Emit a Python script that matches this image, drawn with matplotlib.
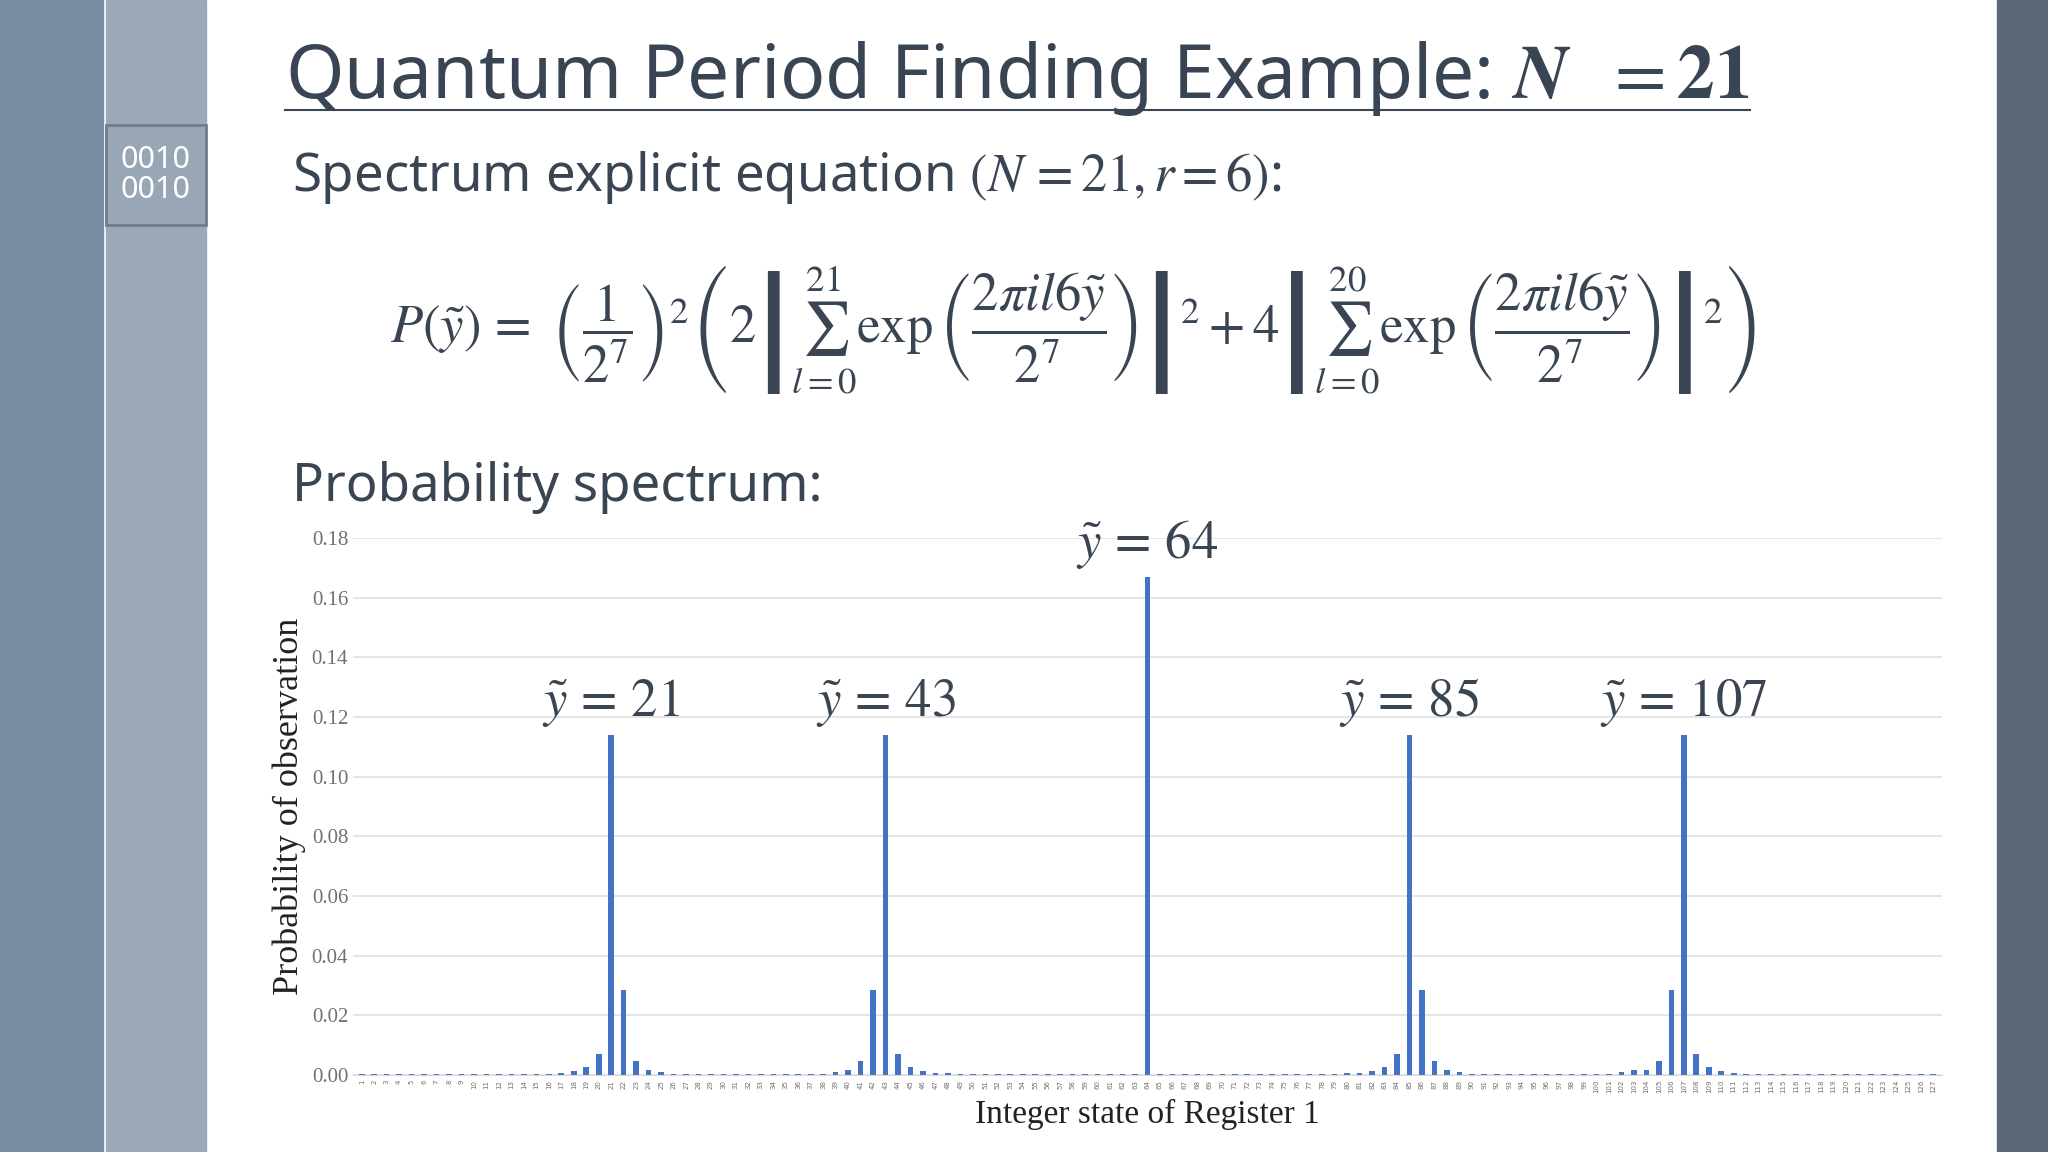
import matplotlib
matplotlib.use('Agg')
import matplotlib.pyplot as plt
from matplotlib.patches import Rectangle
from matplotlib.lines import Line2D

plt.rcParams['mathtext.fontset'] = 'stix'

states = list(range(1, 128))
prob = [
    0.0003, 0.0003, 0.0003, 0.0003, 0.0003, 0.0003, 0.0003, 0.0003, 0.0003, 0.0003,   # 1-10
    0.0003, 0.0003, 0.0003, 0.0003, 0.0003, 0.0005, 0.0006, 0.0013, 0.0026, 0.0070,   # 11-20
    0.1140, 0.0285, 0.0048, 0.0018, 0.0009, 0.0005, 0.0003, 0.0003, 0.0003, 0.0003,   # 21-30
    0.0003, 0.0003, 0.0003, 0.0003, 0.0003, 0.0003, 0.0003, 0.0005, 0.0009, 0.0018,   # 31-40
    0.0048, 0.0285, 0.1140, 0.0070, 0.0026, 0.0013, 0.0006, 0.0006, 0.0003, 0.0003,   # 41-50
    0.0003, 0.0003, 0.0003, 0.0003, 0.0003, 0.0003, 0.0003, 0.0003, 0.0003, 0.0003,   # 51-60
    0.0003, 0.0003, 0.0003, 0.1670, 0.0003, 0.0003, 0.0003, 0.0003, 0.0003, 0.0003,   # 61-70
    0.0003, 0.0003, 0.0003, 0.0003, 0.0003, 0.0003, 0.0003, 0.0003, 0.0003, 0.0006,   # 71-80
    0.0006, 0.0013, 0.0026, 0.0070, 0.1140, 0.0285, 0.0048, 0.0018, 0.0009, 0.0005,   # 81-90
    0.0003, 0.0003, 0.0003, 0.0003, 0.0003, 0.0003, 0.0003, 0.0003, 0.0003, 0.0003,   # 91-100
    0.0005, 0.0009, 0.0018, 0.0018, 0.0048, 0.0285, 0.1140, 0.0070, 0.0026, 0.0013,   # 101-110
    0.0006, 0.0005, 0.0003, 0.0003, 0.0003, 0.0003, 0.0003, 0.0003, 0.0003, 0.0003,   # 111-120
    0.0003, 0.0003, 0.0003, 0.0003, 0.0003, 0.0003, 0.0003,                           # 121-127
]
peaks = [21, 43, 64, 85, 107]
yticks = [0.00, 0.02, 0.04, 0.06, 0.08, 0.10, 0.12, 0.14, 0.16, 0.18]

dark = '#3a4553'
fig = plt.figure(figsize=(20.48, 11.52), dpi=100)

# slide decoration
fig.patches.append(Rectangle((0, 0), 103/2048, 1, transform=fig.transFigure, color='#7b8da2'))
fig.patches.append(Rectangle((106/2048, 0), 100/2048, 1, transform=fig.transFigure, color='#9aa8b7'))
fig.patches.append(Rectangle((1997/2048, 0), 51/2048, 1, transform=fig.transFigure, color='#5a6878'))
fig.patches.append(Rectangle((106/2048, 1 - 225/1152), 100/2048, 100/1152, transform=fig.transFigure,
                             facecolor='#98a6b5', edgecolor='#6e7e8f', lw=2))
fig.text(155/2048, 1 - 175/1152, '0010\n0010', color='white', fontsize=22, ha='center', va='center',
         family='Noto Sans', linespacing=1.0)

fig.text(285/2048, 1 - 78/1152, r'Quantum Period Finding Example: $\boldsymbol{N}\ \ = \mathbf{21}$',
         fontsize=54, color=dark, family='Noto Sans', va='center')
fig.lines.append(Line2D([285/2048, 1750/2048], [1 - 110/1152] * 2, transform=fig.transFigure, color=dark, lw=1.5))

fig.text(292/2048, 1 - 178/1152, r'Spectrum explicit equation $(N\,=21, r=6)$:', fontsize=38, color=dark,
         family='Noto Sans', va='center')
eq = (r'$P(\tilde{y})\,=\ \left(\dfrac{1}{2^7}\right)^2\left(2\left|\sum_{l=0}^{21}\exp\left(\dfrac{2\pi i l 6\tilde{y}}{2^7}\right)\right|^2'
      r'+4\left|\sum_{l=0}^{20}\exp\left(\dfrac{2\pi i l 6\tilde{y}}{2^7}\right)\right|^2\right)$')
fig.text(390/2048, 1 - 330/1152, eq, fontsize=38, color=dark, va='center')

fig.text(292/2048, 1 - 487/1152, 'Probability spectrum:', fontsize=38, color=dark,
         family='Noto Sans', va='center')

ax = fig.add_axes([353/2048, 1 - 1075/1152, (1942 - 353)/2048, (1075 - 538)/1152])
ax.bar(states, prob, width=0.45, color='#4472c4')
ax.set_xlim(0.3, 127.7)
ax.set_ylim(0, 0.18)
ax.set_yticks(yticks)
ax.set_yticklabels([f'{v:.2f}' for v in yticks], family='Liberation Serif', fontsize=15, color='#707070')
ax.set_xticks(states)
ax.set_xticklabels([str(s) for s in states], rotation=90, fontsize=5, color='#707070')
ax.tick_params(length=0)
ax.grid(axis='y', color='#e0e0e0', lw=1.2)
ax.set_axisbelow(True)
for s in ['top', 'right', 'left']:
    ax.spines[s].set_visible(False)
ax.spines['bottom'].set_color('#d9d9d9')
ax.set_ylabel('Probability of observation', family='Liberation Serif', fontsize=26, color='#222222')
ax.set_xlabel('Integer state of Register 1', family='Liberation Serif', fontsize=24, color='#222222')

for p in peaks:
    ax.annotate(r'$\tilde{y}\,=\,' + str(p) + '$', (p, prob[p - 1]), xytext=(0, 4),
                textcoords='offset points', ha='center', va='bottom', fontsize=38, color=dark)

fig.savefig('out.png', dpi=100)
